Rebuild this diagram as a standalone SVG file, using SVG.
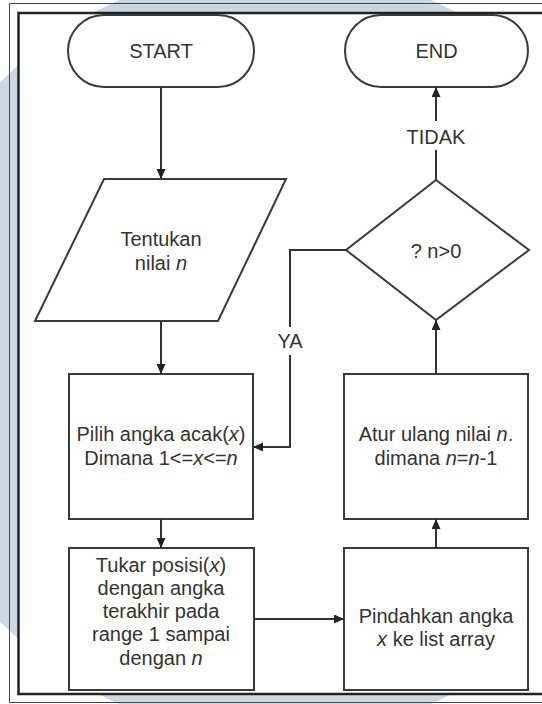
<svg xmlns="http://www.w3.org/2000/svg" width="542" height="704" viewBox="0 0 542 704">
  <defs>
    <marker id="arrow" markerUnits="userSpaceOnUse" markerWidth="11" markerHeight="10" refX="10" refY="4.5" orient="auto">
      <path d="M0,0 L10,4.5 L0,9 z" fill="#222"/>
    </marker>
    <style>
      .shape { fill: #ffffff; stroke: #3a3a3a; stroke-width: 2; }
      .conn { fill: none; stroke: #333; stroke-width: 2; }
      .lbl { font-family: "Liberation Sans", Arial, sans-serif; font-size: 20px; fill: #333; text-anchor: middle; }
      .it { font-style: italic; }
    </style>
  </defs>

  <!-- page background with faint watermark disc -->
  <rect x="0" y="0" width="542" height="704" fill="#ffffff"/>
  <circle cx="275" cy="352" r="385" fill="#cbd8e4"/>

  <!-- outer thin frame -->
  <path d="M545,3.5 H9.5 V702.5 H545" fill="none" stroke="#444" stroke-width="1"/>
  <!-- inner frame with white canvas -->
  <rect x="18.5" y="13" width="530" height="681" fill="#ffffff" stroke="#222" stroke-width="2.5"/>

  <!-- terminators -->
  <g id="start">
    <rect class="shape" x="68" y="15" width="186" height="72" rx="36" ry="36"/>
    <text class="lbl" x="161" y="58">START</text>
  </g>
  <g id="end">
    <rect class="shape" x="345" y="15" width="183" height="72" rx="36" ry="36"/>
    <text class="lbl" x="436.5" y="58">END</text>
  </g>

  <!-- input -->
  <g id="input-n">
    <polygon class="shape" points="104,179 286,179 218,321 35,321"/>
    <text class="lbl" x="161" y="246">Tentukan</text>
    <text class="lbl" x="161" y="270">nilai <tspan class="it">n</tspan></text>
  </g>

  <!-- decision -->
  <g id="decision">
    <polygon class="shape" points="436,180 529,250 436,320 346,250"/>
    <text class="lbl" x="436" y="258">? n&gt;0</text>
  </g>

  <!-- process boxes -->
  <g id="pick-random">
    <rect class="shape" x="69" y="374" width="184" height="145"/>
    <text class="lbl" x="161" y="441">Pilih angka acak(<tspan class="it">x</tspan>)</text>
    <text class="lbl" x="161" y="465">Dimana 1&lt;=<tspan class="it">x</tspan>&lt;=<tspan class="it">n</tspan></text>
  </g>
  <g id="reset-n">
    <rect class="shape" x="344" y="374" width="184" height="145"/>
    <text class="lbl" x="436" y="441">Atur ulang nilai <tspan class="it">n</tspan>.</text>
    <text class="lbl" x="436" y="465">dimana <tspan class="it">n</tspan>=<tspan class="it">n</tspan>-1</text>
  </g>
  <g id="swap">
    <rect class="shape" x="69" y="548" width="185" height="142"/>
    <text class="lbl" x="161" y="572">Tukar posisi(<tspan class="it">x</tspan>)</text>
    <text class="lbl" x="161" y="595">dengan angka</text>
    <text class="lbl" x="161" y="618">terakhir pada</text>
    <text class="lbl" x="161" y="641">range 1 sampai</text>
    <text class="lbl" x="161" y="665">dengan <tspan class="it">n</tspan></text>
  </g>
  <g id="move">
    <rect class="shape" x="344" y="548" width="184" height="142"/>
    <text class="lbl" x="436" y="623">Pindahkan angka</text>
    <text class="lbl" x="436" y="646"><tspan class="it">x</tspan> ke list array</text>
  </g>

  <!-- connectors -->
  <g id="connectors">
    <path class="conn" d="M161,87 V179" marker-end="url(#arrow)"/>
    <path class="conn" d="M161,321 V374" marker-end="url(#arrow)"/>
    <path class="conn" d="M161,519 V548" marker-end="url(#arrow)"/>
    <path class="conn" d="M254,619 H344" marker-end="url(#arrow)"/>
    <path class="conn" d="M436,548 V519" marker-end="url(#arrow)"/>
    <path class="conn" d="M436,374 V320" marker-end="url(#arrow)"/>
    <path class="conn" d="M436,180 V150"/>
    <path class="conn" d="M436,121 V87" marker-end="url(#arrow)"/>
    <text class="lbl" x="436" y="144">TIDAK</text>
    <path class="conn" d="M346,250 H290 V327"/>
    <path class="conn" d="M290,355 V447 H253" marker-end="url(#arrow)"/>
    <text class="lbl" x="290" y="348">YA</text>
  </g>
</svg>
